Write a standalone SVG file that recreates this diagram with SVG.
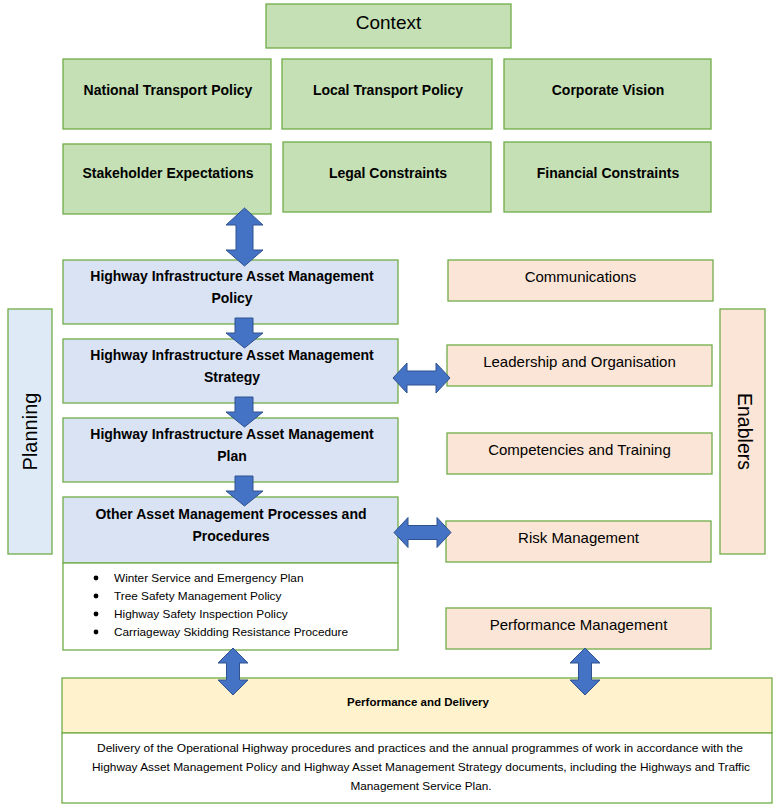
<svg xmlns="http://www.w3.org/2000/svg" width="777" height="810" viewBox="0 0 777 810">
<style>
.g{fill:#c5e0b4;stroke:#70ad47;stroke-width:1.3}
.b{fill:#dae3f3;stroke:#70ad47;stroke-width:1.3}
.pl{fill:#deebf7;stroke:#70ad47;stroke-width:1.3}
.o{fill:#fbe5d6;stroke:#70ad47;stroke-width:1.3}
.y{fill:#fff2cc;stroke:#70ad47;stroke-width:1.3}
.w{fill:#ffffff;stroke:#70ad47;stroke-width:1.3}
text{font-family:"Liberation Sans",Arial,sans-serif;fill:#000;text-anchor:middle}
.hb{font-size:14px;font-weight:bold}
.r{font-size:15px}
.li{font-size:11.8px;text-anchor:start}
.d{font-size:11.2px}
.ar{fill:#4472c4;stroke:#2f528f;stroke-width:1}
</style>
<rect width="777" height="810" fill="#ffffff"/>
<g id="context"><rect class="g" x="266" y="4" width="245" height="44"/><text x="388.5" y="29" style="font-size:19px">Context</text></g>
<g id="national"><rect class="g" x="63" y="59" width="208" height="70"/><text class="hb" x="168" y="95">National Transport Policy</text></g>
<g id="local"><rect class="g" x="282" y="59" width="210" height="70"/><text class="hb" x="388" y="95">Local Transport Policy</text></g>
<g id="corporate"><rect class="g" x="504" y="59" width="207" height="70"/><text class="hb" x="608" y="95">Corporate Vision</text></g>
<g id="stakeholder"><rect class="g" x="63" y="144" width="208" height="70"/><text class="hb" x="168" y="178">Stakeholder Expectations</text></g>
<g id="legal"><rect class="g" x="283" y="142" width="208" height="70"/><text class="hb" x="388" y="178">Legal Constraints</text></g>
<g id="financial"><rect class="g" x="504" y="142" width="207" height="70"/><text class="hb" x="608" y="178">Financial Constraints</text></g>
<g id="planning"><rect class="pl" x="8" y="309" width="44" height="245"/><text x="0" y="0" transform="translate(37,431.5) rotate(-90)" style="font-size:20px">Planning</text></g>
<g id="enablers"><rect class="o" x="720" y="309" width="45" height="245"/><text x="0" y="0" transform="translate(737.5,431.5) rotate(90)" style="font-size:19.5px">Enablers</text></g>
<g id="policy"><rect class="b" x="63" y="260" width="335" height="64"/><text class="hb" x="232" y="281">Highway Infrastructure Asset Management</text><text class="hb" x="232" y="303">Policy</text></g>
<g id="strategy"><rect class="b" x="63" y="339" width="335" height="64"/><text class="hb" x="232" y="360">Highway Infrastructure Asset Management</text><text class="hb" x="232" y="382">Strategy</text></g>
<g id="plan"><rect class="b" x="63" y="418" width="335" height="64"/><text class="hb" x="232" y="439">Highway Infrastructure Asset Management</text><text class="hb" x="232" y="461">Plan</text></g>
<g id="other"><rect class="b" x="63" y="497" width="335" height="66"/><rect class="w" x="63" y="563" width="335" height="87"/><text class="hb" x="231" y="519">Other Asset Management Processes and</text><text class="hb" x="231" y="541">Procedures</text>
<circle cx="96" cy="578" r="2.4"/><circle cx="96" cy="596" r="2.4"/><circle cx="96" cy="614" r="2.4"/><circle cx="96" cy="632" r="2.4"/>
<text class="li" x="114" y="582">Winter Service and Emergency Plan</text>
<text class="li" x="114" y="600">Tree Safety Management Policy</text>
<text class="li" x="114" y="618">Highway Safety Inspection Policy</text>
<text class="li" x="114" y="636">Carriageway Skidding Resistance Procedure</text></g>
<g id="communications"><rect class="o" x="448" y="260" width="265" height="41"/><text class="r" x="580.5" y="282">Communications</text></g>
<g id="leadership"><rect class="o" x="447" y="345" width="265" height="41"/><text class="r" x="579.5" y="367">Leadership and Organisation</text></g>
<g id="competencies"><rect class="o" x="447" y="433" width="265" height="41"/><text class="r" x="579.5" y="455">Competencies and Training</text></g>
<g id="risk"><rect class="o" x="446" y="521" width="265" height="41"/><text class="r" x="578.5" y="543">Risk Management</text></g>
<g id="performance"><rect class="o" x="446" y="608" width="265" height="41"/><text class="r" x="578.5" y="630">Performance Management</text></g>
<g id="delivery"><rect class="y" x="62" y="678" width="710" height="55"/><rect class="w" x="62" y="733" width="710" height="70"/>
<text x="418" y="705.5" style="font-size:11.5px;font-weight:bold">Performance and Delivery</text>
<text class="d" x="420" y="752" textLength="646" lengthAdjust="spacingAndGlyphs">Delivery of the Operational Highway procedures and practices and the annual programmes of work in accordance with the</text>
<text class="d" x="421" y="771" textLength="658" lengthAdjust="spacingAndGlyphs">Highway Asset Management Policy and Highway  Asset Management Strategy documents, including the Highways  and Traffic</text>
<text class="d" x="421" y="790" textLength="141" lengthAdjust="spacingAndGlyphs">Management Service Plan.</text></g>
<g id="connectors">
<polygon class="ar" points="244.5,208 263,225 253,225 253,250 263,250 244.5,266 226,250 236,250 236,225 226,225"/>
<polygon class="ar" points="235,318 253,318 253,333 263,333 244.5,348 226,333 235,333"/>
<polygon class="ar" points="235,397 253,397 253,412 263,412 244.5,427 226,412 235,412"/>
<polygon class="ar" points="235,476 253,476 253,491 263,491 244.5,506 226,491 235,491"/>
<polygon class="ar" points="393,378 407,363 407,371 436,371 436,363 450,378 436,393 436,385 407,385 407,393"/>
<polygon class="ar" points="394,532.5 408,517.5 408,525.5 437,525.5 437,517.5 451,532.5 437,547.5 437,539.5 408,539.5 408,547.5"/>
<polygon class="ar" points="233,648 248,663 239.5,663 239.5,680 248,680 233,695 218,680 226.5,680 226.5,663 218,663"/>
<polygon class="ar" points="585,648 600,663 591.5,663 591.5,680 600,680 585,695 570,680 578.5,680 578.5,663 570,663"/>
</g>
</svg>
